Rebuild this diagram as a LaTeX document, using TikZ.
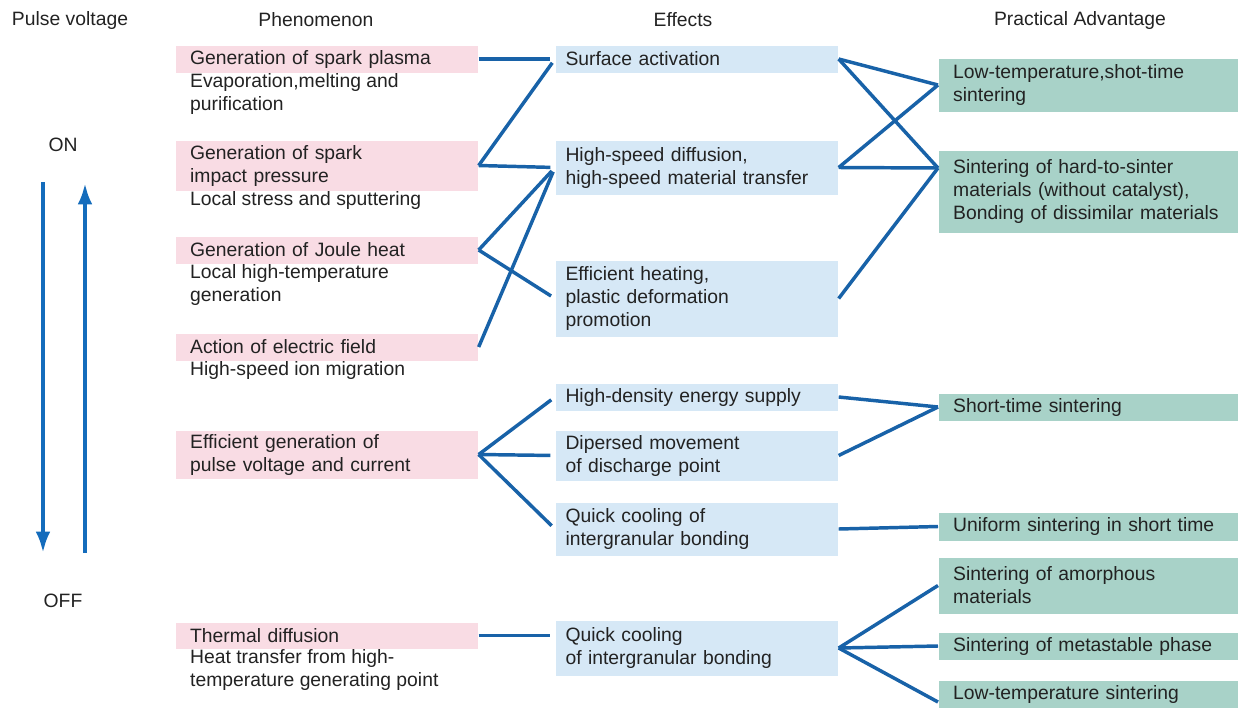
\documentclass[tikz,border=0pt]{standalone}
\usepackage{fontspec}
\setmainfont{Liberation Sans}
\usetikzlibrary{arrows.meta}

\definecolor{pinkfill}{RGB}{249,220,228}
\definecolor{bluefill}{RGB}{214,232,246}
\definecolor{greenfill}{RGB}{168,210,200}
\definecolor{linkblue}{RGB}{24,98,168}
\definecolor{arrowblue}{RGB}{20,108,188}
\definecolor{inkgrey}{RGB}{34,34,34}

\tikzset{every picture/.style={line width=0.75pt},
	txt/.style={font=\fontsize{14.5}{17.25}\selectfont, text=inkgrey},
	cell/.style={txt, anchor=north west, align=left, inner xsep=11pt, inner ysep=0pt},
	pinkbox/.style={cell, fill=pinkfill, text width=205pt},
	bluebox/.style={cell, fill=bluefill, inner xsep=7.5pt, text width=197pt},
	greenbox/.style={cell, fill=greenfill, text width=203pt},
	note/.style={txt, anchor=north west, align=left, inner xsep=11pt, inner ysep=1pt},
	head/.style={txt},
	link/.style={draw=linkblue, line width=2.6pt},
	linkin/.style={link, shorten >=3.5pt},
	pulse/.style={draw=arrowblue, line width=3pt, -{Latex[length=16pt,width=11pt]}}
}

\begin{document}
\begin{tikzpicture}[x=0.75pt,y=0.75pt,yscale=-1,xscale=1]
	%set diagram left start at 0, and has height of 707
	\useasboundingbox (0,0) rectangle (1238,707);
	
	%Column heads
	\node [head] (hpulse) at (70,20) {Pulse voltage};
	\node [head] (hphen) at (316,20) {Phenomenon};
	\node [head] (heff) at (683,20) {Effects};
	\node [head] (hadv) at (1080,20) {Practical Advantage};
	
	%Pulse voltage ON / OFF
	\node [head] (on) at (63,145) {ON};
	\node [head] (off) at (63,601) {OFF};
	\coordinate (dtop) at (43,182);
	\coordinate (dbot) at (43,553);
	\coordinate (ubot) at (85,553);
	\coordinate (utop) at (85,183);
	\draw [pulse] (dtop) -- (dbot);
	\draw [pulse] (ubot) -- (utop);
	
	%Phenomenon
	\node [pinkbox, minimum height=20.25pt] (p1) at (175,45) {Generation of spark plasma};
	\node [note] (n1) at (175,72) {Evaporation,melting and\\purification};
	\node [pinkbox, minimum height=37.5pt] (p2) at (175,140) {Generation of spark\\impact pressure};
	\node [note] (n2) at (175,190) {Local stress and sputtering};
	\node [pinkbox, minimum height=20.25pt] (p3) at (175,236) {Generation of Joule heat};
	\node [note] (n3) at (175,263) {Local high-temperature\\generation};
	\node [pinkbox, minimum height=20.25pt] (p4) at (175,333) {Action of electric field};
	\node [note] (n4) at (175,360) {High-speed ion migration};
	\node [pinkbox, minimum height=36pt] (p5) at (175,430) {Efficient generation of\\pulse voltage and current};
	\node [pinkbox, minimum height=19.5pt] (p6) at (175,622) {Thermal diffusion};
	\node [note] (n6) at (175,648) {Heat transfer from high-\\temperature generating point};
	
	%Effects
	\node [bluebox, minimum height=20.25pt] (b1) at (555,45) {Surface activation};
	\node [bluebox, minimum height=40.5pt] (b2) at (555,140) {High-speed diffusion,\\high-speed material transfer};
	\node [bluebox, minimum height=57pt] (b3) at (555,260) {Efficient heating,\\plastic deformation\\promotion};
	\node [bluebox, minimum height=20.25pt] (b4) at (555,383) {High-density energy supply};
	\node [bluebox, minimum height=37.5pt] (b5) at (555,430) {Dipersed movement\\of discharge point};
	\node [bluebox, minimum height=39.75pt] (b6) at (555,502) {Quick cooling of\\intergranular bonding};
	\node [bluebox, minimum height=41.25pt] (b7) at (555,620) {Quick cooling\\of intergranular bonding};
	
	%Practical Advantage
	\node [greenbox, minimum height=39.75pt] (g1) at (938,58) {Low-temperature,shot-time\\sintering};
	\node [greenbox, minimum height=61.5pt] (g2) at (938,150) {Sintering of hard-to-sinter\\materials (without catalyst),\\Bonding of dissimilar materials};
	\node [greenbox, minimum height=20.25pt] (g3) at (938,393) {Short-time sintering};
	\node [greenbox, minimum height=21pt] (g4) at (938,512) {Uniform sintering in short time};
	\node [greenbox, minimum height=42pt] (g5) at (938,557) {Sintering of amorphous\\materials};
	\node [greenbox, minimum height=20.25pt] (g6) at (938,632) {Sintering of metastable phase};
	\node [greenbox, minimum height=20.25pt] (g7) at (938,680) {Low-temperature sintering};
	
	%Links phenomenon -> effects
	\draw [linkin] (p1.east) -- (b1.west);
	\draw [linkin] (p2.east) -- (b1.west);
	\draw [linkin] (p2.east) -- (b2.west);
	\draw [linkin] (p3.east) -- (b2.west);
	\draw [linkin] (p4.east) -- (b2.west);
	\draw [linkin] (p3.east) -- (b3.west);
	\draw [linkin] (p5.east) -- (b4.west);
	\draw [linkin] (p5.east) -- (b5.west);
	\draw [linkin] (p5.east) -- (b6.west);
	\draw [linkin] (p6.east) -- (p6.east -| b7.west);
	
	%Links effects -> advantage
	\draw [link] (b1.east) -- (g1.west);
	\draw [link] (b1.east) -- ([yshift=13.5pt]g2.north west);
	\draw [link] (b2.east) -- (g1.west);
	\draw [link] (b2.east) -- ([yshift=13.5pt]g2.north west);
	\draw [link] (b3.east) -- ([yshift=13.5pt]g2.north west);
	\draw [link] (b4.east) -- (g3.west);
	\draw [link] (b5.east) -- (g3.west);
	\draw [link] (b6.east) -- (g4.west);
	\draw [link] (b7.east) -- (g5.west);
	\draw [link] (b7.east) -- (g6.west);
	\draw [link] (b7.east) -- ([yshift=6pt]g7.west);
	
\end{tikzpicture}
\end{document}
